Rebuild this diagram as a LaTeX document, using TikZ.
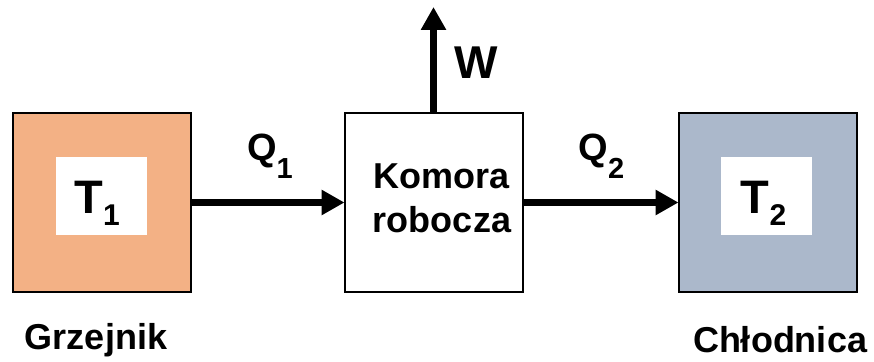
\documentclass[tikz,border=0pt]{standalone}
\usepackage{fontspec}
\setmainfont{Liberation Sans}
\usetikzlibrary{arrows.meta}
\definecolor{hotc}{HTML}{F3B185}
\definecolor{coldc}{HTML}{ABB8CB}
\tikzset{
 res/.style={draw=black, line width=2pt, minimum width=178pt, minimum height=179pt, inner sep=0pt, outer sep=0pt},
 innerbox/.style={fill=white, minimum width=91pt, minimum height=78pt, inner sep=0pt},
 flow/.style={line width=7pt, -{Triangle[length=23pt,width=24pt]}},
 lbl/.style={inner sep=0pt, anchor=base, font=\bfseries\fontsize{36}{44}\selectfont},
}
\newcommand\bigTsub[1]{{\fontsize{47}{47}\selectfont T\raisebox{-12pt}{\fontsize{30}{30}\selectfont #1}}}
\newcommand\bigQsub[1]{{\fontsize{38}{38}\selectfont Q\raisebox{-18pt}{\fontsize{29}{29}\selectfont #1}}}
\begin{document}
\begin{tikzpicture}[x=1pt,y=-1pt]
\useasboundingbox (0,0) rectangle (874,361);
% reservoirs and chamber
\node[res, fill=hotc] (hot) at (102,202.5) {};
\node[innerbox] (hotin) at (101.5,196) {};
\node[lbl] (t1) at (97,213) {\bigTsub{1}};
\node[res, fill=white] (kom) at (433.5,202.5) {};
\node[lbl, align=center] (komt) at (442,232) {Komora\\robocza};
\node[res, fill=coldc] (cold) at (767.5,202.5) {};
\node[innerbox] (coldin) at (766.5,196) {};
\node[lbl] (t2) at (763.5,213) {\bigTsub{2}};
% arrows
\coordinate (wtip) at (433.5,7);
\draw[flow] (kom.north) -- (wtip);
\draw[flow] (hot.east) -- (kom.west);
\draw[flow] (kom.east) -- (cold.west);
% labels
\node[lbl, anchor=base west, font=\bfseries\fontsize{46}{46}\selectfont] (w) at (454,78) {W};
\node[lbl] (q1) at (270,160) {\bigQsub{1}};
\node[lbl] (q2) at (601.5,160) {\bigQsub{2}};
\node[lbl] (grz) at (96,349) {Grzejnik};
\node[lbl] (chl) at (780,352) {Chłodnica};
\end{tikzpicture}
\end{document}
